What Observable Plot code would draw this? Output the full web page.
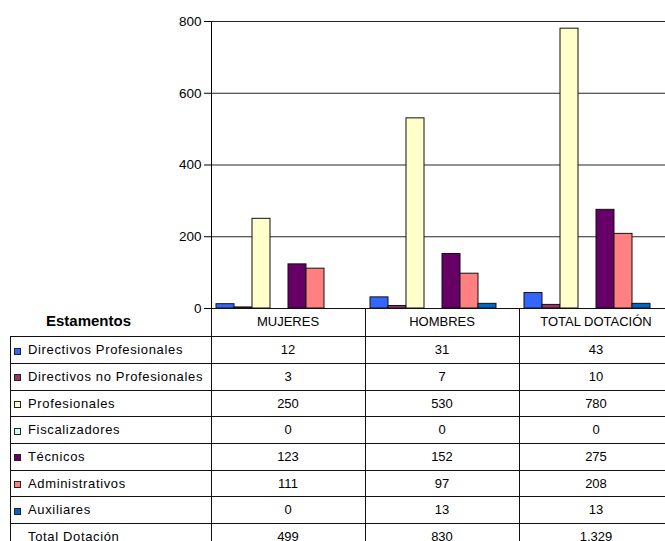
<!DOCTYPE html>
<html>
<head>
<meta charset="utf-8">
<script src="https://cdn.jsdelivr.net/npm/d3@7"></script>
<script src="https://cdn.jsdelivr.net/npm/@observablehq/plot@0.6"></script>
<style>
  html, body { margin: 0; padding: 0; background: #fff; overflow: hidden; }
  #wrap { position: relative; width: 665px; height: 541px; overflow: hidden;
          font-family: Arial, "Liberation Sans", sans-serif; }
  #wrap svg { display: block; max-width: none; }
  #tabla { position: absolute; left: 0; }
</style>
</head>
<body>
<div id="wrap"></div>
<script>
// Categories (columns of the data table) and staff groups (series)
const categories = ["MUJERES", "HOMBRES", "TOTAL DOTACIÓN"];
const estamentos = [
  "Directivos Profesionales",
  "Directivos no Profesionales",
  "Profesionales",
  "Fiscalizadores",
  "Técnicos",
  "Administrativos",
  "Auxiliares"
];
const colores = ["#3366FF", "#993366", "#FFFFCC", "#CCFFFF", "#660066", "#FF8080", "#0066CC"];

// Headcount per staff group, one list per column
const mujeres = [12, 3, 250, 0, 123, 111, 0];
const hombres = [31, 7, 530, 0, 152, 97, 13];
const totalDotacion = [43, 10, 780, 0, 275, 208, 13];

// Totals row (series without visible bars)
const totalLabel = "Total Dotación";
const totales = [499, 830, 1329];

const yTicks = [0, 200, 400, 600, 800];
const tableHeader = "Estamentos";

const byCategory = [mujeres, hombres, totalDotacion];
const data = categories.flatMap((c, ci) =>
  estamentos.map((e, ei) => ({cat: c, serie: e, value: byCategory[ci][ei]}))
);

const fontFamily = "Arial, 'Liberation Sans', sans-serif";

const chart = Plot.plot({
  width: 674,
  height: 309,
  marginLeft: 210,
  marginRight: 0,
  marginTop: 21,
  marginBottom: 1,
  style: {fontFamily, fontSize: "13.5px", color: "#000", background: "transparent",
          overflow: "visible", maxWidth: "none"},
  fx: {domain: categories, padding: 0, axis: null},
  x: {domain: [...estamentos, totalLabel], paddingInner: 0, paddingOuter: 0.19, axis: null},
  y: {domain: [0, 800], ticks: yTicks, tickSize: 7, tickPadding: 3, line: true, label: null},
  color: {domain: estamentos, range: colores},
  marks: [
    Plot.gridY(yTicks.filter((t) => t > 0), {stroke: "#000", strokeOpacity: 0.85}),
    Plot.barY(data.filter((d) => d.value > 0), {
      fx: "cat", x: "serie", y: "value", fill: "serie",
      stroke: "#111", strokeWidth: 1
    }),
    Plot.ruleY([0], {stroke: "#000"})
  ]
});

const wrap = document.getElementById("wrap");
wrap.appendChild(chart);

// ---- Data table under the plot, aligned on the fx bands ----
const fmt = d3.formatLocale({decimal: ",", thousands: ".", grouping: [3], currency: ["$", ""]}).format(",d");
const fx = chart.scale("fx");
const y0 = chart.scale("y").apply(0);
const W = 674;
const tableLeft = 10;
const headH = 28.4;
const rowH = 26.67;
const px = (v) => Math.round(v) + 0.5;

const rowLabels = [...estamentos, totalLabel];
const rowValues = estamentos.map((e, i) => byCategory.map((a) => a[i])).concat([totales]);
const nRows = rowLabels.length;
const tH = 541 - y0;

const svg = d3.select(wrap).append("svg")
  .attr("id", "tabla")
  .attr("width", W)
  .attr("height", tH)
  .style("top", y0 + "px")
  .attr("font-family", fontFamily)
  .attr("font-size", 13);

const colStarts = categories.map((c) => fx.apply(c));
const colW = fx.bandwidth;

const lines = svg.append("g").attr("stroke", "#111").attr("stroke-width", 1);
// top of the header cells (chart baseline)
lines.append("line").attr("x1", colStarts[0]).attr("x2", W).attr("y1", 0.5).attr("y2", 0.5);
// horizontal row separators
for (let k = 0; k <= nRows; k++) {
  const yy = px(headH + k * rowH);
  lines.append("line").attr("x1", tableLeft).attr("x2", W).attr("y1", yy).attr("y2", yy);
}
// vertical column separators
colStarts.concat([W]).forEach((x) => {
  lines.append("line").attr("x1", px(x)).attr("x2", px(x)).attr("y1", 0).attr("y2", tH);
});
lines.append("line").attr("x1", px(tableLeft)).attr("x2", px(tableLeft))
  .attr("y1", px(headH)).attr("y2", tH);

// header texts
svg.append("text").attr("x", 88.5).attr("y", 18).attr("text-anchor", "middle")
  .attr("font-weight", "bold").attr("font-size", 15).text(tableHeader);
categories.forEach((c, i) => {
  svg.append("text").attr("x", colStarts[i] + colW / 2).attr("y", 18)
    .attr("text-anchor", "middle").text(c);
});

// rows
rowLabels.forEach((label, k) => {
  const cy = headH + k * rowH + rowH / 2;
  if (k < estamentos.length) {
    svg.append("rect").attr("x", 14.5).attr("y", Math.round(cy) - 1.5)
      .attr("width", 6).attr("height", 6)
      .attr("fill", colores[k]).attr("stroke", "#222");
  }
  svg.append("text").attr("x", 28).attr("y", cy + 4.5)
    .attr("letter-spacing", "0.65px").text(label);
  rowValues[k].forEach((v, i) => {
    svg.append("text").attr("x", colStarts[i] + colW / 2).attr("y", cy + 4.5)
      .attr("text-anchor", "middle").text(fmt(v));
  });
});
</script>
</body>
</html>
